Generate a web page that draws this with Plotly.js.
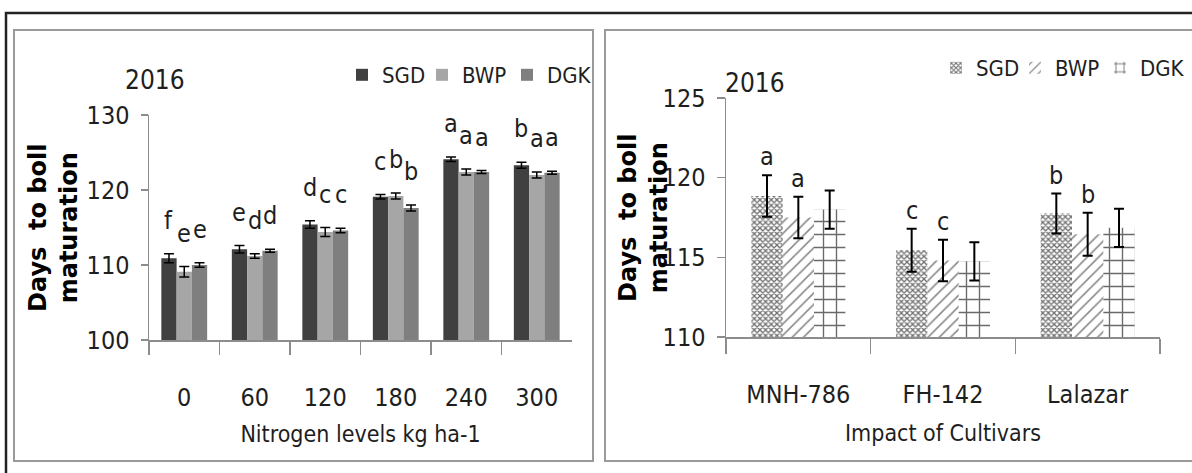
<!DOCTYPE html>
<html>
<head>
<meta charset="utf-8">
<script src="https://cdn.plot.ly/plotly-3.0.1.min.js"></script>
<style>
  html, body { margin: 0; padding: 0; background: #ffffff; }
  #chart { width: 1192px; height: 473px; }
</style>
</head>
<body>
<div id="chart"></div>
<script>
// ---------------- DATA ----------------
const nitrogenLevels = ['0', '60', '120', '180', '240', '300'];
const seriesNames = ['SGD', 'BWP', 'DGK'];

const nSGD = [110.9, 112.1, 115.4, 119.1, 124.1, 123.3];
const nBWP = [109.1, 111.2, 114.4, 119.2, 122.4, 122.0];
const nDGK = [110.0, 111.9, 114.6, 117.6, 122.4, 122.3];
const nSGDerr = [0.6, 0.5, 0.5, 0.3, 0.3, 0.4];
const nBWPerr = [0.7, 0.3, 0.6, 0.4, 0.4, 0.4];
const nDGKerr = [0.3, 0.2, 0.3, 0.4, 0.2, 0.2];
const nSGDletters = ['f', 'e', 'd', 'c', 'a', 'b'];
const nBWPletters = ['e', 'd', 'c', 'b', 'a', 'a'];
const nDGKletters = ['e', 'd', 'c', 'b', 'a', 'a'];

const cultivars = ['MNH-786', 'FH-142', 'Lalazar'];
const cSGD = [118.85, 115.45, 117.75];
const cBWP = [117.5, 114.8, 116.45];
const cDGK = [118.0, 114.75, 116.85];
const cSGDerr = [1.3, 1.35, 1.25];
const cBWPerr = [1.3, 1.3, 1.35];
const cDGKerr = [1.2, 1.2, 1.2];
const cSGDletters = ['a', 'c', 'b'];
const cBWPletters = ['a', 'c', 'b'];
const cDGKletters = ['', '', ''];

const yearLabel = '2016';
const yTitle = 'Days  to boll<br>maturation';
const xTitleLeft = 'Nitrogen levels kg ha-1';
const xTitleRight = 'Impact of Cultivars';

// ---------------- LAYOUT HELPERS ----------------
const W = 1192, H = 473;
const px = v => v / W;
const py = v => 1 - v / H;
const NARROW = "'DejaVu Sans Condensed', 'Liberation Sans Narrow', sans-serif";
const BOLDFAM = "'DejaVu Sans', 'Liberation Sans', sans-serif";
const AX = '#8c8c8c';
const TXT = '#1e1e1e';
const BARGAP = 0.35;

const leftX = [149, 572], leftY = [340, 115];
const rightX = [726, 1160], rightY = [337, 98];
// legend text start positions (px) for each series, left and right panel
const leftLegendTextX = [378, 458, 543], leftLegendY = 75;
const rightLegendTextX = [972, 1051, 1136], rightLegendY = 68;

const greyColors = ['#404040', '#a6a6a6', '#7f7f7f'];

function errObj(arr, thick) {
  return { type: 'data', array: arr, visible: true, color: '#000000', thickness: thick, width: 5 };
}

const traces = [];
const nVals = [nSGD, nBWP, nDGK];
const nErrs = [nSGDerr, nBWPerr, nDGKerr];
const legendIds = ['legend', 'legend2', 'legend3', 'legend4', 'legend5', 'legend6'];
for (let i = 0; i < 3; i++) {
  traces.push({
    type: 'bar', name: seriesNames[i], x: nitrogenLevels, y: nVals[i],
    xaxis: 'x', yaxis: 'y', legend: legendIds[i],
    marker: { color: greyColors[i], line: { width: 0 } },
    error_y: errObj(nErrs[i], 1.5), hoverinfo: 'x+y'
  });
}
const cVals = [cSGD, cBWP, cDGK];
const cErrs = [cSGDerr, cBWPerr, cDGKerr];
const patterns = [
  { shape: 'x', fgcolor: '#707070', size: 4, solidity: 0.55 },
  { shape: '/', fgcolor: '#8a8a8a', size: 8, solidity: 0.2 },
  { shape: '+', fgcolor: '#6a6a6a', size: 13, solidity: 0.2 }
];
for (let i = 0; i < 3; i++) {
  traces.push({
    type: 'bar', name: seriesNames[i], x: cultivars, y: cVals[i],
    xaxis: 'x2', yaxis: 'y2', legend: legendIds[3 + i],
    marker: { color: '#ffffff', line: { width: 0 }, pattern: patterns[i] },
    error_y: errObj(cErrs[i], 2), hoverinfo: 'x+y'
  });
}

// letters above error bars (x given as category index)
const annotations = [];
function addLetters(cats, vals, errs, letters, xr, yr, barPx, idx, yshift) {
  for (let j = 0; j < cats.length; j++) {
    if (!letters[j]) continue;
    annotations.push({
      xref: xr, yref: yr, x: j, y: vals[j] + errs[j], text: letters[j],
      showarrow: false, yanchor: 'bottom', xanchor: 'center',
      xshift: (idx - 1) * barPx, yshift: yshift,
      font: { family: NARROW, size: 25, color: TXT }
    });
  }
}
const leftBarPx = (leftX[1] - leftX[0]) / nitrogenLevels.length * (1 - BARGAP) / 3;
const rightBarPx = (rightX[1] - rightX[0]) / cultivars.length * (1 - BARGAP) / 3;
const nLet = [nSGDletters, nBWPletters, nDGKletters];
const cLet = [cSGDletters, cBWPletters, cDGKletters];
for (let i = 0; i < 3; i++) {
  addLetters(nitrogenLevels, nVals[i], nErrs[i], nLet[i], 'x', 'y', leftBarPx, i, 17);
  addLetters(cultivars, cVals[i], cErrs[i], cLet[i], 'x2', 'y2', rightBarPx, i, 2);
}
// year labels
annotations.push({ xref: 'paper', yref: 'paper', x: px(155), y: py(80), text: yearLabel,
  showarrow: false, xanchor: 'center', yanchor: 'middle', font: { family: NARROW, size: 26, color: TXT } });
annotations.push({ xref: 'paper', yref: 'paper', x: px(755), y: py(83), text: yearLabel,
  showarrow: false, xanchor: 'center', yanchor: 'middle', font: { family: NARROW, size: 26, color: TXT } });
// y-axis titles (rotated)
annotations.push({ xref: 'paper', yref: 'paper', x: px(53), y: py(228), text: yTitle, textangle: -90,
  showarrow: false, xanchor: 'center', yanchor: 'middle',
  font: { family: BOLDFAM, size: 24, color: '#000', weight: 'bold' } });
annotations.push({ xref: 'paper', yref: 'paper', x: px(643), y: py(218), text: yTitle, textangle: -90,
  showarrow: false, xanchor: 'center', yanchor: 'middle',
  font: { family: BOLDFAM, size: 24, color: '#000', weight: 'bold' } });

const tickFont = { family: NARROW, size: 25, color: TXT };
const axisBase = {
  showline: true, linecolor: AX, linewidth: 1.5, showgrid: false, zeroline: false,
  ticks: 'outside', tickcolor: AX, tickwidth: 1.5, tickfont: tickFont, fixedrange: true,
  automargin: false
};

function legendAt(textX, yPix) {
  return {
    orientation: 'h', x: px(textX - 36), y: py(yPix), xanchor: 'left', yanchor: 'middle',
    font: { family: NARROW, size: 22, color: TXT }, bgcolor: 'rgba(0,0,0,0)',
    itemclick: false, itemdoubleclick: false
  };
}

const layout = {
  width: W, height: H,
  margin: { l: 0, r: 0, t: 0, b: 0, pad: 0, autoexpand: false },
  paper_bgcolor: '#ffffff', plot_bgcolor: 'rgba(0,0,0,0)',
  bargap: BARGAP, bargroupgap: 0, barmode: 'group',
  showlegend: true,
  xaxis: Object.assign({}, axisBase, {
    type: 'category', domain: [px(leftX[0]), px(leftX[1])], anchor: 'y',
    range: [-0.5, nitrogenLevels.length - 0.5],
    tickson: 'boundaries', ticklen: 13, ticklabelstandoff: 34,
    title: { text: xTitleLeft, font: { family: NARROW, size: 23, color: TXT }, standoff: 15 }
  }),
  yaxis: Object.assign({}, axisBase, {
    domain: [py(leftY[0]), py(leftY[1])], anchor: 'x', range: [100, 130], dtick: 10,
    ticklen: 7, ticklabelstandoff: 6
  }),
  xaxis2: Object.assign({}, axisBase, {
    type: 'category', domain: [px(rightX[0]), px(rightX[1])], anchor: 'y2',
    range: [-0.5, cultivars.length - 0.5],
    tickson: 'boundaries', ticklen: 15, ticklabelstandoff: 34,
    title: { text: xTitleRight, font: { family: NARROW, size: 23, color: TXT }, standoff: 17 }
  }),
  yaxis2: Object.assign({}, axisBase, {
    domain: [py(rightY[0]), py(rightY[1])], anchor: 'x2', range: [110, 125], dtick: 5,
    ticklen: 8, ticklabelstandoff: 6
  }),
  legend: legendAt(leftLegendTextX[0], leftLegendY),
  legend2: legendAt(leftLegendTextX[1], leftLegendY),
  legend3: legendAt(leftLegendTextX[2], leftLegendY),
  legend4: legendAt(rightLegendTextX[0], rightLegendY),
  legend5: legendAt(rightLegendTextX[1], rightLegendY),
  legend6: legendAt(rightLegendTextX[2], rightLegendY),
  annotations: annotations,
  shapes: [
    { type: 'rect', xref: 'paper', yref: 'paper', x0: px(6), x1: px(1230), y0: py(13), y1: py(500),
      line: { color: '#222222', width: 2.5 }, fillcolor: 'rgba(0,0,0,0)', layer: 'below' },
    { type: 'rect', xref: 'paper', yref: 'paper', x0: px(14), x1: px(593), y0: py(30), y1: py(461),
      line: { color: '#9a9a9a', width: 2 }, fillcolor: 'rgba(0,0,0,0)', layer: 'below' },
    { type: 'rect', xref: 'paper', yref: 'paper', x0: px(605), x1: px(1230), y0: py(30), y1: py(461),
      line: { color: '#9a9a9a', width: 2 }, fillcolor: 'rgba(0,0,0,0)', layer: 'below' }
  ]
};

Plotly.newPlot('chart', traces, layout, { displayModeBar: false, staticPlot: true });
</script>
</body>
</html>
